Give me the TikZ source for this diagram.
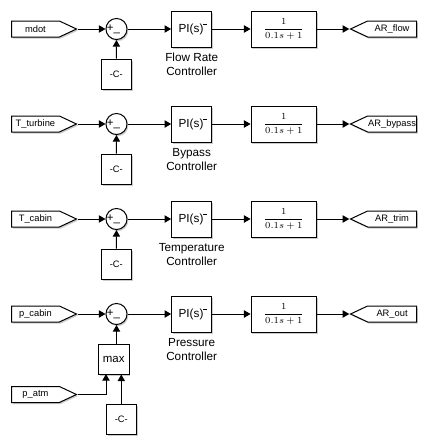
\documentclass[tikz,border=0pt]{standalone}
\usepackage{fontspec}
\setmainfont{Liberation Sans}
\usetikzlibrary{positioning,arrows.meta,shapes.symbols,shadows}
\definecolor{shade}{HTML}{A8A8A8}
\newcommand{\pimark}{\rlap{\raisebox{5.2pt}{\rule{2.6pt}{0.6pt}}}}
\tikzset{
  blockshadow/.style={drop shadow={shadow xshift=1pt, shadow yshift=-1.2pt, fill=shade, opacity=0.6}},
  blockbox/.style={draw=black, fill=white, line width=0.75pt, blockshadow, inner sep=0pt},
  tagout/.style={blockbox, signal, signal to=east, signal pointer angle=50, minimum height=12pt, minimum width=48.75pt, font=\fontsize{7}{8}\selectfont},
  tagin/.style={blockbox, signal, signal to=west, signal pointer angle=50, minimum height=12pt, minimum width=49.5pt, font=\fontsize{7}{8}\selectfont},
  sumbox/.style={blockbox, circle, minimum size=15pt, font=\fontsize{8.6}{9}\selectfont},
  constbox/.style={blockbox, minimum width=22.5pt, minimum height=22.5pt, font=\fontsize{7}{8}\selectfont},
  pibox/.style={blockbox, minimum width=30pt, minimum height=27pt, font=\fontsize{8.8}{10}\selectfont},
  tfbox/.style={blockbox, minimum width=49pt, minimum height=27pt, font=\fontsize{7}{8}\selectfont},
  captiontext/.style={align=center, font=\fontsize{8.8}{10.5}\selectfont, inner sep=0pt},
  wire/.style={-{Triangle[length=5pt,width=5.5pt]}, line width=0.75pt},
}
\begin{document}
\begin{tikzpicture}[x=0.75pt, y=-0.75pt]
  \useasboundingbox (0,0) rectangle (427,446);
  % four control channels
  \foreach \n/\y/\src/\cap/\dst in {a/29/mdot/{Flow Rate\\Controller}/AR\_flow,
                                    b/124/T\_turbine/{Bypass\\Controller}/AR\_bypass,
                                    c/219/T\_cabin/{Temperature\\Controller}/AR\_trim,
                                    d/314/p\_cabin/{Pressure\\Controller}/AR\_out} {
    \node[tagout, anchor=west] (src\n) at (11,\y) {\src};
    \node[sumbox] (sum\n) at (116.5,\y) {+\_\kern 4.5pt};
    \node[pibox] (pi\n) at (191.7,\y) {\kern -1pt PI(s)\pimark};
    \node[captiontext, below=4pt of pi\n] (cap\n) {\cap};
    \node[tfbox] (tf\n) at (283.8,\y) {$\displaystyle\frac{1}{0.1s+1}$};
    \node[tagin, anchor=east] (dst\n) at (417,\y) {\dst};
    \draw[wire] (src\n.east) -- (sum\n);
    \draw[wire] (sum\n) -- (pi\n);
    \draw[wire] (pi\n) -- (tf\n);
    \draw[wire] (tf\n) -- (dst\n.west);
  }
  \node[constbox] (consta) at (116.3,74) {-C-};
  \node[constbox] (constb) at (116.3,169) {-C-};
  \node[constbox] (constc) at (116.3,264) {-C-};
  \draw[wire] (consta) -- (suma);
  \draw[wire] (constb) -- (sumb);
  \draw[wire] (constc) -- (sumc);
  % pressure reference
  \node[blockbox, minimum width=23pt, minimum height=22.5pt, font=\fontsize{8.6}{9}\selectfont] (maxd) at (113.7,359) {max};
  \node[tagout, anchor=west] (atmd) at (11,394.5) {p\_atm};
  \node[constbox] (constd) at (121.3,419) {-C-};
  \coordinate (atmin) at (106,374);
  \draw[wire] (maxd.north -| sumd) -- (sumd);
  \draw[wire] (atmd.east) -| (atmin);
  \draw[wire] (constd) -- (constd |- maxd.south);
\end{tikzpicture}
\end{document}
